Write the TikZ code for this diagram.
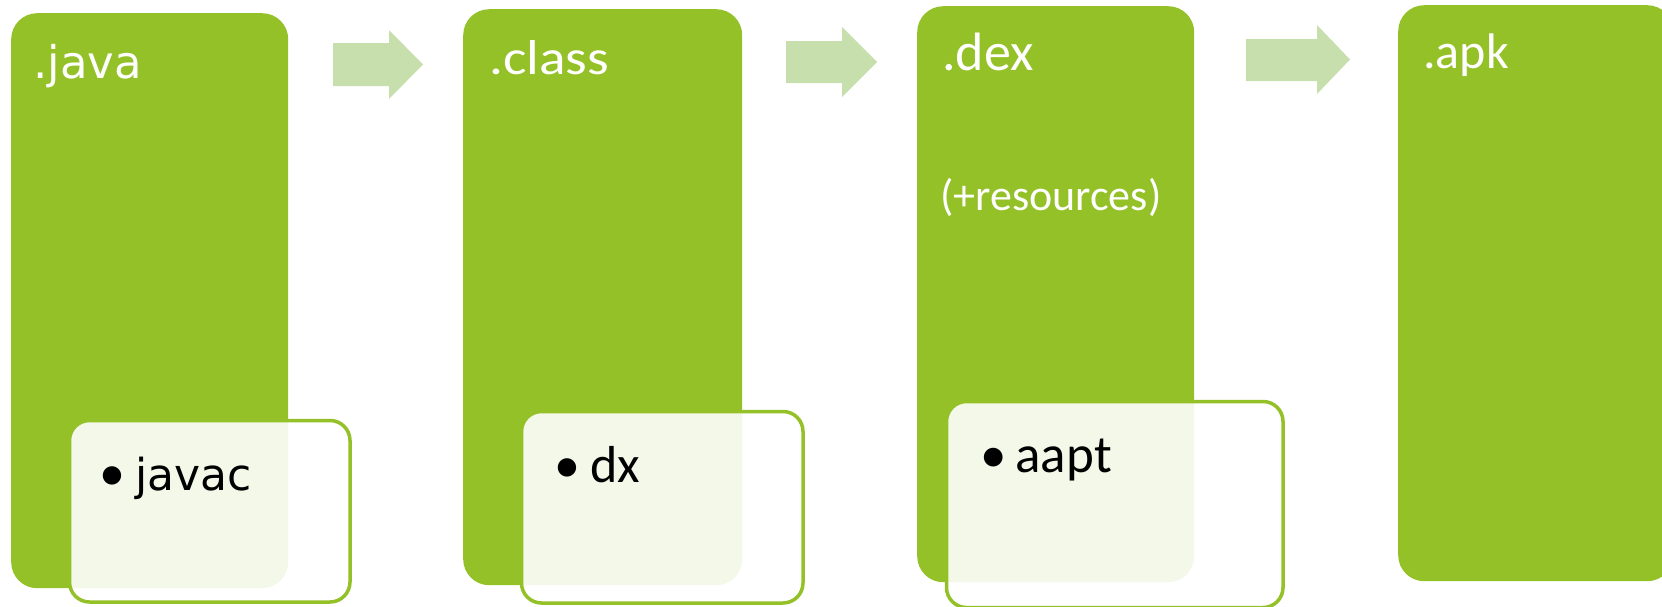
\documentclass[tikz,border=0pt]{standalone}
\usepackage{fontspec}
\setmainfont{Carlito}
\newfontfamily\tahfont{DejaVu Sans}
\newfontfamily\wideclass[FakeStretch=1.13]{Carlito}
\definecolor{lgreen}{HTML}{93C127}
\definecolor{agreen}{HTML}{C7DFAD}
\begin{document}
\begin{tikzpicture}[x=1pt,y=-1pt,
  bigbox/.style={fill=lgreen, draw=none, rounded corners=26pt, inner sep=0pt, anchor=north west},
  toolbox/.style={draw=lgreen, line width=3.5pt, fill=white, fill opacity=0.9, rounded corners=20pt, inner sep=0pt, anchor=north west},
  flowarrow/.style={fill=agreen, draw=none},
  lbl/.style={text=white, anchor=base west, inner sep=0pt},
  tool/.style={text=black, anchor=base west, inner sep=0pt}]
\useasboundingbox (0,0) rectangle (1662,606);
\clip (0,0) rectangle (1662,606);

% big boxes
\node[bigbox, minimum width=277pt, minimum height=575pt] (java) at (11,13) {};
\node[bigbox, minimum width=279pt, minimum height=576pt] (class) at (463,9) {};
\node[bigbox, minimum width=277pt, minimum height=576pt] (dex) at (917,6) {};
\node[bigbox, minimum width=275pt, minimum height=576pt] (apk) at (1398,5) {};

% tool boxes
\node[toolbox, minimum width=280.5pt, minimum height=181.5pt] (javacbox) at (67.75,418.75) {};
\node[toolbox, minimum width=281.5pt, minimum height=191.5pt] (dxbox) at (519.75,409.75) {};
\node[toolbox, minimum width=336.5pt, minimum height=206pt] (aaptbox) at (944.75,399.75) {};

% arrows
\fill[flowarrow] (333,43) -- (389,43) -- (389,30) -- (423,64.5) -- (389,99) -- (389,86) -- (333,86) -- cycle;
\fill[flowarrow] (786,41) -- (842,41) -- (842,27) -- (877,62) -- (842,97) -- (842,83) -- (786,83) -- cycle;
\fill[flowarrow] (1246,39) -- (1317,39) -- (1317,25) -- (1350,59.5) -- (1317,94) -- (1317,81) -- (1246,81) -- cycle;

% labels
\node[lbl, font=\tahfont\fontsize{45}{53}\selectfont] (tjava) at (33,78) {.java};
\node[lbl, font=\wideclass\fontsize{49}{57}\selectfont] (tclass) at (489,74) {.class};
\node[lbl, font=\fontsize{54}{62}\selectfont] (tdex) at (942,70) {.dex};
\node[lbl, font=\fontsize{44}{52}\selectfont] (tres) at (940,210) {(+resources)};
\node[lbl, font=\fontsize{50}{58}\selectfont] (tapk) at (1423,68) {.apk};

\node[tool, font=\tahfont\fontsize{44}{52}\selectfont] (tjavac) at (99,490) {{\normalfont\fontsize{52}{60}\selectfont\textbullet}\hspace{10pt}javac};
\node[tool, font=\fontsize{52}{60}\selectfont] (tdx) at (554,482) {\textbullet\hspace{10pt}dx};
\node[tool, font=\fontsize{53}{61}\selectfont] (taapt) at (980,472) {\textbullet\hspace{9pt}aapt};
\end{tikzpicture}
\end{document}
